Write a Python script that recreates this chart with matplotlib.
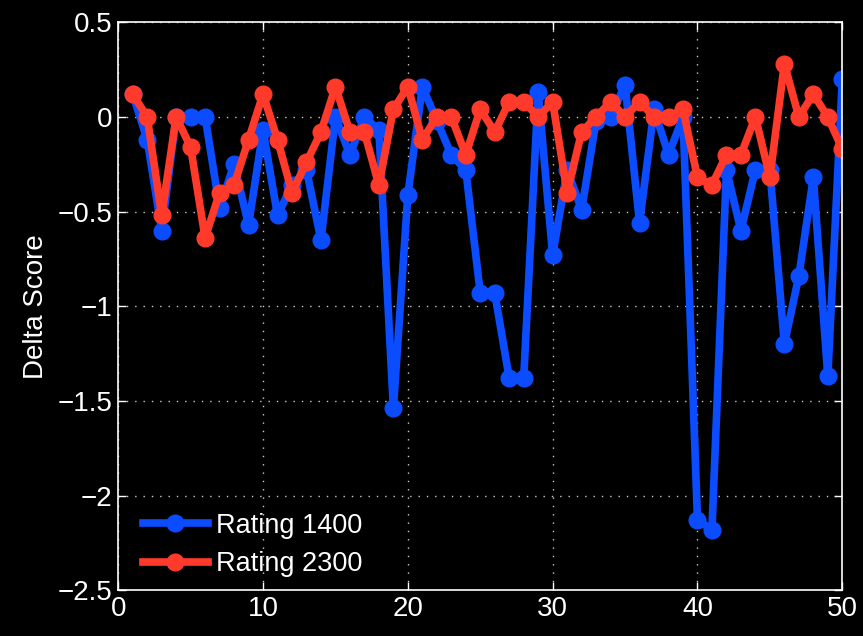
import numpy as np
import matplotlib.pyplot as plt

# Delta score per move for two player ratings
moves = np.arange(1, 51)
rating_1400 = [0.12, -0.12, -0.60, 0.0, 0.0, 0.0, -0.48, -0.25, -0.57, -0.07,
               -0.52, -0.36, -0.28, -0.65, 0.0, -0.20, 0.0, -0.07, -1.54, -0.41,
               0.16, -0.02, -0.20, -0.28, -0.93, -0.93, -1.38, -1.38, 0.13, -0.73,
               -0.28, -0.49, -0.02, 0.0, 0.17, -0.56, 0.04, -0.20, 0.0, -2.13,
               -2.18, -0.28, -0.60, -0.28, -0.28, -1.20, -0.84, -0.32, -1.37, 0.20]
rating_2300 = [0.12, 0.0, -0.52, 0.0, -0.16, -0.64, -0.40, -0.36, -0.12, 0.12,
               -0.12, -0.40, -0.24, -0.08, 0.16, -0.08, -0.08, -0.36, 0.04, 0.16,
               -0.12, 0.0, 0.0, -0.20, 0.04, -0.08, 0.08, 0.08, 0.0, 0.08,
               -0.40, -0.08, 0.0, 0.08, 0.0, 0.08, 0.0, 0.0, 0.04, -0.32,
               -0.36, -0.20, -0.20, 0.0, -0.32, 0.28, 0.0, 0.12, 0.0, -0.17]

plt.rcParams['font.family'] = ['Liberation Sans', 'DejaVu Sans']

fig = plt.figure(figsize=(8.63, 6.36), dpi=100, facecolor='black')
ax = fig.add_axes([0.137, 0.072, 0.839, 0.893], facecolor='black')

ax.plot(moves, rating_1400, color='#0b4cff', lw=5.5, marker='o', ms=12,
        label='Rating 1400')
ax.plot(moves, rating_2300, color='#ff3a2a', lw=5.5, marker='o', ms=12,
        label='Rating 2300')

ax.set_xlim(0, 50)
ax.set_ylim(-2.5, 0.5)
ax.set_xticks(np.arange(0, 51, 10))
ax.set_yticks(np.arange(-2.5, 0.51, 0.5))
ax.set_yticklabels(['\u22122.5', '\u22122', '\u22121.5', '\u22121', '\u22120.5', '0', '0.5'])

ax.grid(True, color='#cccccc', linestyle=(0, (1, 5)), linewidth=1)
for s in ax.spines.values():
    s.set_color('white')
    s.set_linewidth(1.2)
ax.tick_params(colors='white', labelcolor='white', labelsize=20, direction='in',
               top=True, right=True, length=6, width=1, pad=4)

ax.set_ylabel('Delta Score', color='white', fontsize=20, labelpad=6)

leg = ax.legend(loc='lower left', bbox_to_anchor=(0.013, -0.003), fontsize=19.5,
                frameon=False, handlelength=2.4, handletextpad=0.3,
                labelspacing=0.45, borderaxespad=0.15)
for t in leg.get_texts():
    t.set_color('white')

fig.savefig('out.png', dpi=100, facecolor='black')
